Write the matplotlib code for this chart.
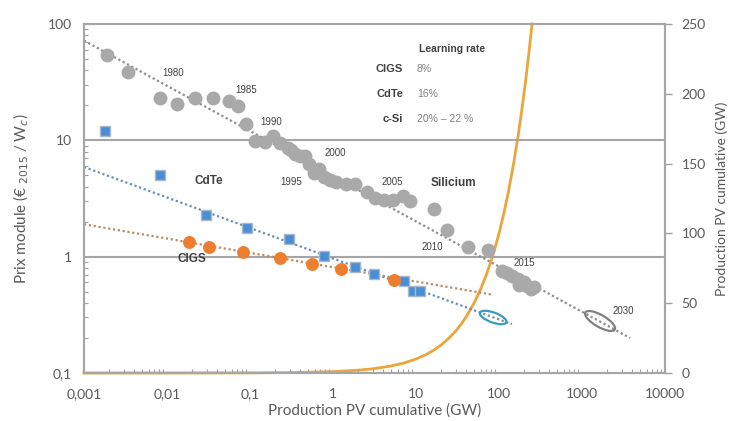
import matplotlib
matplotlib.use("Agg")
import matplotlib.pyplot as plt
import matplotlib.ticker as mt
from matplotlib.patches import Ellipse
from matplotlib.transforms import ScaledTranslation

# --- data -----------------------------------------------------------------
# c-Si module price vs cumulative production
si_x = [0.0019, 0.0034, 0.0082, 0.0132, 0.0217, 0.0358, 0.056, 0.072, 0.09,
        0.115, 0.151, 0.189, 0.23, 0.287, 0.31, 0.35, 0.40, 0.46, 0.52, 0.59,
        0.68, 0.78, 0.92, 1.1, 1.45, 1.84, 2.6, 3.2, 4.1, 5.3, 6.9, 8.5,
        16.5, 23.6, 42.0, 74.0, 108.0, 125.0, 145.0, 170.0, 200.0, 215.0,
        240.0, 265.0, 175.0]
si_y = [54.0, 38.7, 23.1, 20.5, 23.0, 23.0, 21.7, 19.8, 13.8,
        9.9, 9.7, 10.9, 9.5, 8.6, 8.3, 7.6, 7.4, 7.3, 6.3, 5.2,
        5.7, 4.8, 4.6, 4.4, 4.2, 4.2, 3.6, 3.2, 3.1, 3.1, 3.3, 3.0,
        2.56, 1.69, 1.21, 1.13, 0.76, 0.73, 0.68, 0.64, 0.60, 0.56,
        0.53, 0.55, 0.57]

# CdTe module price
cdte_x = [0.0018, 0.0082, 0.0295, 0.092, 0.295, 0.78, 1.84, 3.12, 7.2, 9.2, 11.2]
cdte_y = [12.0, 5.0, 2.28, 1.76, 1.42, 1.01, 0.81, 0.71, 0.62, 0.51, 0.51]

# CIGS module price
cigs_x = [0.0184, 0.032, 0.082, 0.23, 0.56, 1.25, 5.4]
cigs_y = [1.34, 1.21, 1.10, 0.97, 0.86, 0.78, 0.63]

# experience-curve trend lines (end points)
si_trend_x = [0.001, 3800.0]
si_trend_y = [72.0, 0.2]
cdte_trend_x = [0.001, 143.0]
cdte_trend_y = [5.9, 0.263]
cigs_trend_x = [0.001, 85.0]
cigs_trend_y = [1.9, 0.47]

# cumulative production (GW), shown on the linear right axis
prod_gw = [0.001, 0.01, 0.1, 0.3, 1, 2, 3, 5, 7, 10, 13, 16, 20, 25, 30, 35,
           40, 50, 60, 70, 80, 90, 100, 115, 130, 150, 170, 190, 210, 230, 250]

# projections circled on the trend lines
proj_cdte = (85.0, 0.30)
proj_si = (1650.0, 0.28)

x_ticks = [0.001, 0.01, 0.1, 1, 10, 100, 1000, 10000]
x_labels = ["0,001", "0,01", "0,1", "1", "10", "100", "1000", "10000"]
y_ticks = [0.1, 1, 10, 100]
y_labels = ["0,1", "1", "10", "100"]
y2_ticks = [0, 50, 100, 150, 200, 250]

years = [("1980", 0.0118, 37.9), ("1985", 0.0895, 27.1), ("1990", 0.179, 14.4),
         ("2000", 1.06, 7.8), ("1995", 0.312, 4.37), ("2005", 5.14, 4.37),
         ("2010", 15.6, 1.21), ("2015", 200.0, 0.88), ("2030", 3120.0, 0.34)]
tech_labels = [("Silicium", 27.9, 4.3), ("CdTe", 0.032, 4.45), ("CIGS", 0.02, 0.95)]

lr_names = ["CIGS", "CdTe", "c-Si"]
lr_values = ["8%", "16%", "20% – 22 %"]

# --- figure ---------------------------------------------------------------
grey_txt = "#595959"
fig = plt.figure(figsize=(7.29, 4.21), dpi=100)
ax = fig.add_axes([84 / 729, 48 / 421, 581 / 729, 349 / 421])
ax2 = ax.twinx()
ax.set_zorder(ax2.get_zorder() + 1)
ax.patch.set_visible(False)

ax.set_xscale("log")
ax.set_yscale("log")
ax.set_xlim(0.001, 10000)
ax.set_ylim(0.1, 100)
ax2.set_ylim(0, 250)

for y in (1, 10):
    ax.axhline(y, color="#A6A6A6", lw=1.5, zorder=0)

dots = (0, (1, 1.2))
ax.plot(si_trend_x, si_trend_y, color="#8C8C8C", lw=1.6, ls=dots, zorder=2)
ax.plot(cdte_trend_x, cdte_trend_y, color="#6B8EB5", lw=1.6, ls=dots, zorder=2)
ax.plot(cigs_trend_x, cigs_trend_y, color="#C08A62", lw=1.6, ls=dots, zorder=2)

ax.plot(si_x, si_y, "o", ms=9, color="#A9A9A9", mec="#A9A9A9", zorder=3)
ax.plot(cdte_x, cdte_y, "s", ms=7, color="#4A8FD6", mec="#A9B9C9", mew=1, zorder=4)
ax.plot(cigs_x, cigs_y, "o", ms=8.3, color="#EE7D2E", mec="#EE7D2E", zorder=5)

ax2.plot(prod_gw, prod_gw, color="#EBA53A", lw=2, clip_on=False, zorder=3)

# projection ellipses, sized in inches around a data point
for (cx, cy), w, h, ang, col in [(proj_cdte, 0.28, 0.10, -20, "#3A9BC0"),
                                 (proj_si, 0.34, 0.12, -30, "#808080")]:
    tr = fig.dpi_scale_trans + ScaledTranslation(cx, cy, ax.transData)
    ax.add_patch(Ellipse((0, 0), w, h, angle=ang, fill=False, ec=col,
                         lw=1.6, transform=tr, zorder=6))

# labels
for txt, x, y in years:
    ax.text(x, y, txt, fontsize=7, color="#404040", ha="center", va="center",
            family="Liberation Sans")
for txt, x, y in tech_labels:
    ax.text(x, y, txt, fontsize=8.5, fontweight="bold", color="#404040",
            ha="center", va="center", family="Liberation Sans")

ax.text(0.634, 0.928, "Learning rate", transform=ax.transAxes, fontsize=7.5,
        fontweight="bold", color="#404040", ha="center", va="center",
        family="Liberation Sans")
for i, (n, v) in enumerate(zip(lr_names, lr_values)):
    yy = 0.871 - i * 0.071
    ax.text(0.549, yy, n, transform=ax.transAxes, fontsize=8, fontweight="bold",
            color="#404040", ha="right", va="center", family="Liberation Sans")
    ax.text(0.573, yy, v, transform=ax.transAxes, fontsize=7.5, color="#7F7F7F",
            ha="left", va="center", family="Liberation Sans")

# axes styling
ax.xaxis.set_major_locator(mt.FixedLocator(x_ticks))
ax.xaxis.set_major_formatter(mt.FixedFormatter(x_labels))
ax.yaxis.set_major_locator(mt.FixedLocator(y_ticks))
ax.yaxis.set_major_formatter(mt.FixedFormatter(y_labels))
ax.xaxis.set_minor_locator(mt.LogLocator(base=10, subs=range(2, 10), numticks=20))
ax.yaxis.set_minor_locator(mt.LogLocator(base=10, subs=range(2, 10), numticks=20))
ax.xaxis.set_minor_formatter(mt.NullFormatter())
ax.yaxis.set_minor_formatter(mt.NullFormatter())
ax.tick_params(which="major", length=0, labelsize=10, labelcolor=grey_txt)
ax.tick_params(axis="x", which="major", pad=11)
ax.tick_params(axis="y", which="major", pad=9)
ax.tick_params(which="minor", direction="in", length=3, width=0.8, color="#A0A0A0")

ax2.set_yticks(y2_ticks)
ax2.tick_params(axis="y", direction="out", length=5, width=1, color="#A0A0A0",
                pad=7, labelsize=10, labelcolor=grey_txt)

for a in (ax, ax2):
    for s in a.spines.values():
        s.set_color("#A6A6A6")
        s.set_linewidth(1.5)
    for lab in a.get_xticklabels() + a.get_yticklabels():
        lab.set_family("Lato")

ax.set_xlabel("Production PV cumulative (GW)", fontsize=11, color=grey_txt,
              family="Lato", labelpad=2)
ax.set_ylabel("Prix module (€ $_{2015}$ / W$_c$)", fontsize=11, color=grey_txt,
              family="Lato", labelpad=12)
ax2.set_ylabel("Production PV cumulative (GW)", fontsize=10, color=grey_txt,
               family="Lato", labelpad=7)

fig.savefig("out.png", dpi=100)
